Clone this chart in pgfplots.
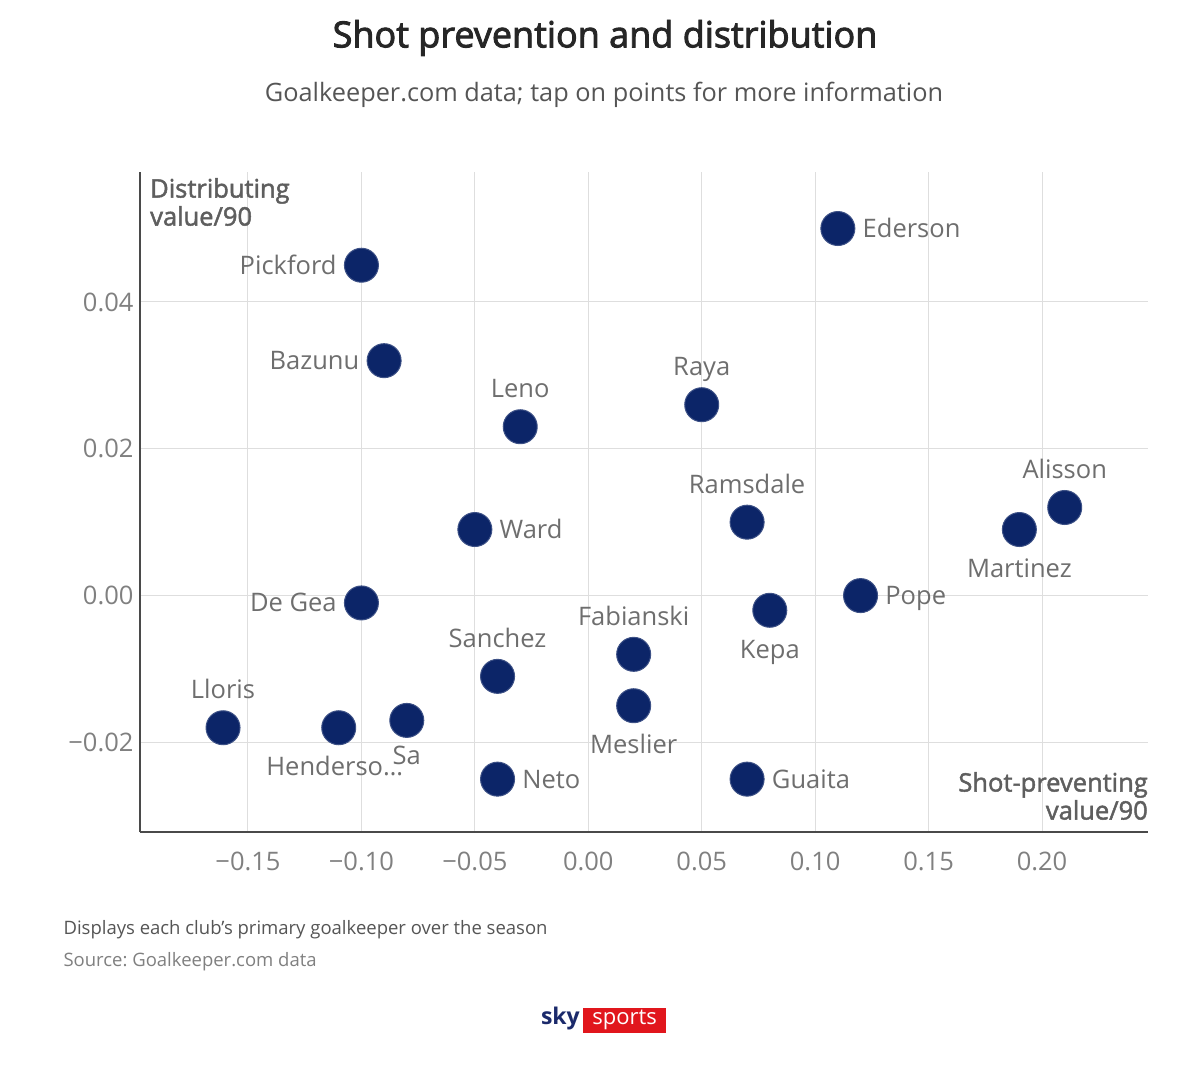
\documentclass[border=0pt]{standalone}
\usepackage{fontspec}
\setmainfont{Open Sans}
\newfontfamily\medfont{Open Sans}[FakeBold=2.5]
\newfontfamily\semifont{Open Sans}[FakeBold=1.8]
\usepackage{pgfplots}
\pgfplotsset{compat=1.18}
\definecolor{navy}{HTML}{0C2568}
\definecolor{lblgray}{HTML}{6E6E6E}
\definecolor{tickgray}{HTML}{808080}
\definecolor{titlegray}{HTML}{262626}
\definecolor{subgray}{HTML}{555555}
\definecolor{cornergray}{HTML}{5E5E5E}
\definecolor{gridgray}{HTML}{DEDEDE}
\definecolor{axisgray}{HTML}{4A4A4A}
\definecolor{skyred}{HTML}{E1161D}
\definecolor{skyblue}{HTML}{1B2A6B}
\begin{document}
\frenchspacing
\begin{tikzpicture}[x=1pt,y=1pt]
\path[use as bounding box] (0,0) rectangle (1198,1084);
\node[font=\medfont\fontsize{36}{42}\selectfont, text=titlegray] at (605,1046) {Shot prevention and distribution};
\node[font=\fontsize{25.3}{30}\selectfont, text=subgray] at (604,989) {Goalkeeper.com data; tap on points for more information};
\begin{axis}[
  at={(140pt,252pt)}, anchor=south west,
  width=1008pt, height=660pt, scale only axis,
  xmin=-0.1976, xmax=0.2467, ymin=-0.0322, ymax=0.0577,
  scaled x ticks=false, scaled y ticks=false,
  axis x line=bottom, axis y line=left,
  axis line style={-, draw=axisgray, line width=1.3pt},
  major tick length=0pt,
  grid=major, grid style={draw=gridgray, line width=1pt},
  xtick={-0.15,-0.10,-0.05,0,0.05,0.10,0.15,0.20},
  xticklabels={−0.15,−0.10,−0.05,0.00,0.05,0.10,0.15,0.20},
  ytick={-0.02,0,0.02,0.04},
  yticklabels={−0.02,0.00,0.02,0.04},
  tick label style={font=\fontsize{25.5}{30}\selectfont, text=tickgray},
  xticklabel style={yshift=-16pt},
  yticklabel style={xshift=-3pt},
  every axis plot/.append style={only marks, mark=*, mark size=17pt,
     mark options={fill=navy, draw=navy!80!white, line width=1pt},
     nodes near coords, point meta=explicit symbolic},
  clip=false,
]
% labels to the right
\addplot[every node near coord/.append style={anchor=base west, xshift=21pt, yshift=-9pt, font=\fontsize{25.5}{30}\selectfont, text=lblgray}]
table[meta=label]{
x y label
0.11 0.050 Ederson
-0.05 0.009 Ward
0.12 0.000 Pope
-0.04 -0.025 Neto
0.07 -0.025 Guaita
};
% labels to the left
\addplot[every node near coord/.append style={anchor=base east, xshift=-21pt, yshift=-9pt, font=\fontsize{25.5}{30}\selectfont, text=lblgray}]
table[meta=label]{
x y label
-0.10 0.045 Pickford
-0.09 0.032 Bazunu
-0.10 -0.001 {De Gea}
};
% labels above
\addplot[every node near coord/.append style={anchor=base, yshift=29pt, font=\fontsize{25.5}{30}\selectfont, text=lblgray}]
table[meta=label]{
x y label
-0.03 0.023 Leno
0.05 0.026 Raya
0.07 0.010 Ramsdale
0.21 0.012 Alisson
-0.04 -0.011 Sanchez
0.02 -0.008 Fabianski
-0.161 -0.018 Lloris
};
% labels below
\addplot[every node near coord/.append style={anchor=base, yshift=-48pt, font=\fontsize{25.5}{30}\selectfont, text=lblgray}]
table[meta=label]{
x y label
0.19 0.009 Martinez
0.08 -0.002 Kepa
0.02 -0.015 Meslier
};
\addplot[every node near coord/.append style={anchor=base, xshift=-4pt, yshift=-48pt, font=\fontsize{25.5}{30}\selectfont, text=lblgray}]
table[meta=label]{
x y label
-0.11 -0.018 Henderso…
};
\addplot[every node near coord/.append style={anchor=base, yshift=-44pt, font=\fontsize{25.5}{30}\selectfont, text=lblgray}]
table[meta=label]{
x y label
-0.08 -0.017 Sa
};
\node[anchor=north west, align=left, font=\semifont\fontsize{25.5}{28}\selectfont, text=cornergray, inner sep=0pt] at (rel axis cs:0,1) [xshift=10pt, yshift=-6pt] {Distributing\\value/90};
\node[anchor=south east, align=right, font=\semifont\fontsize{25.5}{28}\selectfont, text=cornergray, inner sep=0pt] at (rel axis cs:1,0) [yshift=12pt] {Shot-preventing\\value/90};
\end{axis}
\node[anchor=base west, font=\fontsize{18.5}{22}\selectfont, text=subgray] at (60,150) {Displays each club's primary goalkeeper over the season};
\node[anchor=base west, font=\fontsize{18.5}{22}\selectfont, text=tickgray] at (60,118) {Source: Goalkeeper.com data};
\node[anchor=east, font=\bfseries\fontsize{23}{26}\selectfont, text=skyblue, inner sep=0pt] at (580,65) {sky};
\node[anchor=west, fill=skyred, text=white, font=\fontsize{22}{24}\selectfont, inner sep=1.5pt, minimum height=25pt, minimum width=83pt] at (583,64) {sports};
\end{tikzpicture}
\end{document}
